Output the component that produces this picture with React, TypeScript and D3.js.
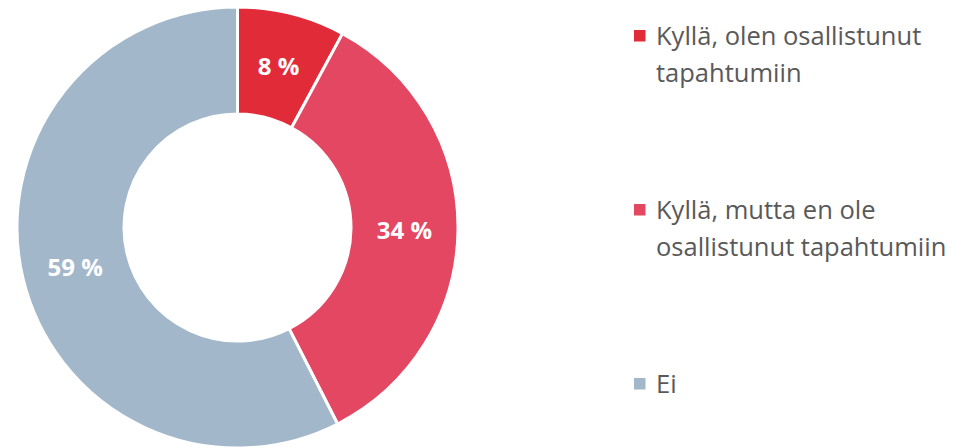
import React from "react";
import * as d3 from "d3";

const categories = [
  "Kyllä, olen osallistunut tapahtumiin",
  "Kyllä, mutta en ole osallistunut tapahtumiin",
  "Ei",
];
const legendLines = [
  ["Kyllä, olen osallistunut", "tapahtumiin"],
  ["Kyllä, mutta en ole", "osallistunut tapahtumiin"],
  ["Ei"],
];
const values = [7.9, 34.6, 57.5];
const valueLabels = ["8 %", "34 %", "59 %"];
const colors = ["#E22B39", "#E34762", "#A2B7CA"];

const W = 955;
const H = 448;

export default function App() {
  const cx = 237.5;
  const cy = 227.5;
  const outerR = 220.5;
  const innerR = 113.5;

  const pie = d3
    .pie<number>()
    .sort(null)
    .value((d) => d);
  const arcs = pie(values);
  const arc = d3
    .arc<d3.PieArcDatum<number>>()
    .innerRadius(innerR)
    .outerRadius(outerR);

  const legendX = 634;
  const legendTextX = 656;
  const legendBaselines = [45, 219, 393];
  const lineGap = 36.5;

  return (
    <svg
      width={W}
      height={H}
      style={{ position: "absolute", left: 0, top: 0, background: "#fff" }}
      fontFamily="'Open Sans', sans-serif"
    >
      <g transform={`translate(${cx},${cy})`}>
        {arcs.map((a, i) => (
          <path
            key={categories[i]}
            d={arc(a) || ""}
            fill={colors[i]}
            stroke="#fff"
            strokeWidth={3}
            strokeLinejoin="miter"
          />
        ))}
        {arcs.map((a, i) => {
          const [x, y] = arc.centroid(a);
          return (
            <text
              key={"l" + i}
              x={x}
              y={y}
              textAnchor="middle"
              dominantBaseline="central"
              fill="#fff"
              fontWeight={700}
              fontSize={24}
            >
              {valueLabels[i]}
            </text>
          );
        })}
      </g>
      {legendLines.map((lines, i) => (
        <g key={"lg" + i}>
          <rect
            x={legendX}
            y={legendBaselines[i] - 15}
            width={11.5}
            height={11.5}
            fill={colors[i]}
          />
          {lines.map((ln, j) => (
            <text
              key={j}
              x={legendTextX}
              y={legendBaselines[i] + j * lineGap}
              fill="#595959"
              fontSize={25.5}
            >
              {ln}
            </text>
          ))}
        </g>
      ))}
    </svg>
  );
}
